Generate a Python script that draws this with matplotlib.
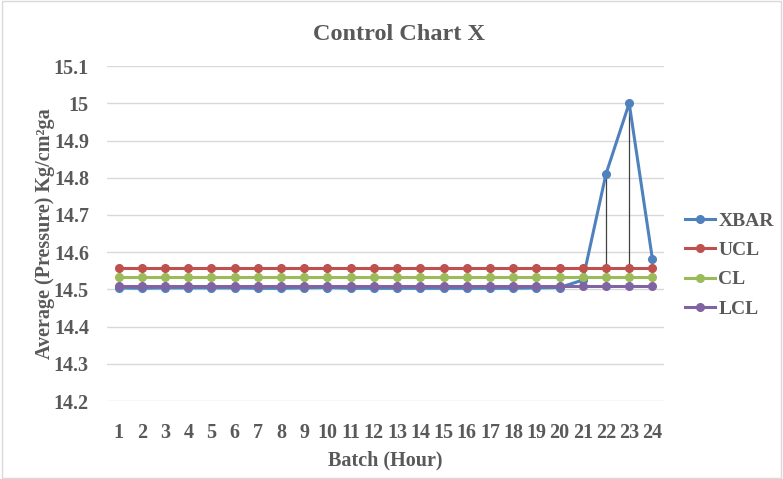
import matplotlib.pyplot as plt
from matplotlib.patches import Rectangle

# control chart data
batch = list(range(1, 25))
xbar = [14.504, 14.503, 14.504, 14.504, 14.504, 14.504, 14.503, 14.503, 14.504, 14.505,
        14.503, 14.503, 14.503, 14.503, 14.503, 14.503, 14.503, 14.503, 14.504, 14.505,
        14.525, 14.81, 15.0, 14.582]
ucl = [14.558] * 24
cl = [14.533] * 24
lcl = [14.508] * 24

series_names = ["XBAR", "UCL", "CL", "LCL"]
series_colors = ["#4F81BD", "#C0504D", "#9BBB59", "#8064A2"]

plt.rcParams['font.family'] = ['Liberation Serif', 'DejaVu Serif']
txt = "#595959"

fig = plt.figure(figsize=(7.83, 4.79), dpi=100)
ax = fig.add_axes([0.1367, 0.1628, 0.7113, 0.6992])

# high-low lines
for i, b in enumerate(batch):
    vals = [xbar[i], ucl[i], cl[i], lcl[i]]
    ax.vlines(b, min(vals), max(vals), color="#404040", lw=0.9, zorder=2)

for data, name, col in zip([xbar, ucl, cl, lcl], series_names, series_colors):
    ax.plot(batch, data, color=col, lw=2.2, marker='o', markersize=5.5,
            label=name, zorder=3)

ax.set_xlim(0.5, 24.5)
ax.set_ylim(14.2, 15.1)
ax.set_yticks([14.2 + 0.1 * k for k in range(10)])
ax.set_yticklabels(["14.2", "14.3", "14.4", "14.5", "14.6", "14.7", "14.8", "14.9", "15", "15.1"])
ax.set_xticks(batch)
ax.grid(axis='y', color="#D9D9D9", lw=1)
ax.set_axisbelow(True)
for s in ax.spines.values():
    s.set_visible(False)
ax.tick_params(length=0, labelsize=14.5, colors=txt)
ax.tick_params(axis='y', pad=13)
ax.tick_params(axis='x', pad=16)
for lbl in ax.get_xticklabels() + ax.get_yticklabels():
    lbl.set_fontweight('bold')

ax.set_xlabel("Batch (Hour)", fontsize=14.5, fontweight='bold', color=txt, labelpad=5)
ax.set_ylabel("Average (Pressure) Kg/cm²ga", fontsize=14.5, fontweight='bold',
              color=txt, labelpad=-1)
fig.text(0.51, 0.928, "Control Chart X", ha='center', va='center', fontsize=17.5,
         fontweight='bold', color=txt)

leg = fig.legend(loc='center left', bbox_to_anchor=(0.853, 0.447), frameon=False,
                 handlelength=1.5, labelspacing=0.6, handletextpad=0.2,
                 prop={'weight': 'bold', 'size': 14})
for t in leg.get_texts():
    t.set_color(txt)

fig.patches.append(Rectangle((0.002, 0.003), 0.996, 0.994, transform=fig.transFigure,
                             fill=False, edgecolor="#D9D9D9", lw=1))

fig.savefig("out.png", dpi=100)
